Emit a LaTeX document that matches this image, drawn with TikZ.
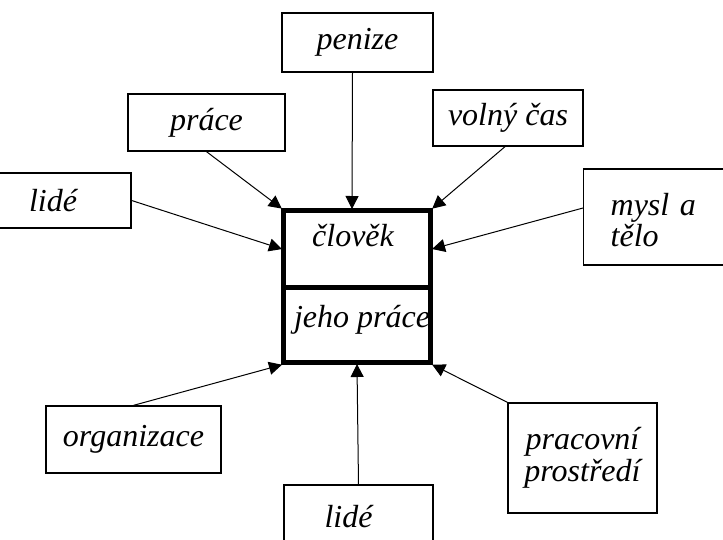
\documentclass[tikz,border=0pt]{standalone}
\usepackage{fontspec}
\setmainfont{Liberation Serif}
\usetikzlibrary{arrows.meta}

\begin{document}
\begin{tikzpicture}[x=1pt,y=-1pt,
  every node/.style={font=\fontsize{32}{34}\selectfont\itshape},
  labelbox/.style={draw, line width=1.3pt, rectangle, inner sep=0pt},
  corebox/.style={draw, line width=5pt, rectangle, inner sep=0pt,
                  minimum width=147pt, text height=22pt, text depth=8pt},
  feed/.style={line width=1pt, -{Triangle[length=13pt,width=13pt]}, shorten >=-1pt}
]
\useasboundingbox (0,0) rectangle (723,539);
\begin{scope}
\clip (0,0) rectangle (723,539);

% central two-part box
\node[corebox, minimum height=76.5pt] (clovek) at (357,248.75)
  {\hspace*{-8pt}\raisebox{9pt}{člověk}};
\node[corebox, minimum height=75.5pt] (jeho) at (357,324.75)
  {\hspace*{10pt}\raisebox{4pt}{jeho práce}};

% surrounding influences
\node[labelbox, minimum width=151pt, minimum height=59pt] (penize) at (357.5,42.5) {penize};
\node[labelbox, minimum width=157pt, minimum height=57pt] (prace) at (206.5,122.5) {práce};
\node[labelbox, minimum width=150pt, minimum height=56pt] (volny) at (508,118) {volný čas};
\node[labelbox, minimum width=156pt, minimum height=55pt] (lide) at (53,200.5) {lidé};
\node[labelbox, anchor=west, minimum height=96pt, inner xsep=27pt,
      text width=110pt, align=left, font=\fontsize{32}{31}\selectfont\itshape]
      (mysl) at (583,217) {\rule{0pt}{28pt}mysl a\\tělo};
\node[labelbox, minimum width=175pt, minimum height=67pt] (organizace) at (133.5,439.5) {organizace};
\node[labelbox, minimum width=149pt, minimum height=110pt, align=center,
      font=\fontsize{32}{32}\selectfont\itshape]
      (prostredi) at (582.5,458) {pracovní\\prostředí};
\node[labelbox, minimum width=149pt, minimum height=64pt] (lidezdola) at (358.5,517) {\hspace*{-20pt}lidé};

% arrows into the central box
\draw[feed] ([xshift=-5pt]penize.south) -- ([xshift=-5pt]clovek.north);
\draw[feed] (prace.south) -- (clovek.north west);
\draw[feed] ([xshift=-3pt]volny.south) -- (clovek.north east);
\draw[feed] (lide.east) -- (clovek.west);
\draw[feed] ([yshift=9pt]mysl.west) -- (clovek.east);
\draw[feed] (organizace.north) -- (jeho.south west);
\draw[feed] (lidezdola.north) -- (jeho.south);
\draw[feed] (prostredi.north west) -- (jeho.south east);
\end{scope}
\end{tikzpicture}
\end{document}
